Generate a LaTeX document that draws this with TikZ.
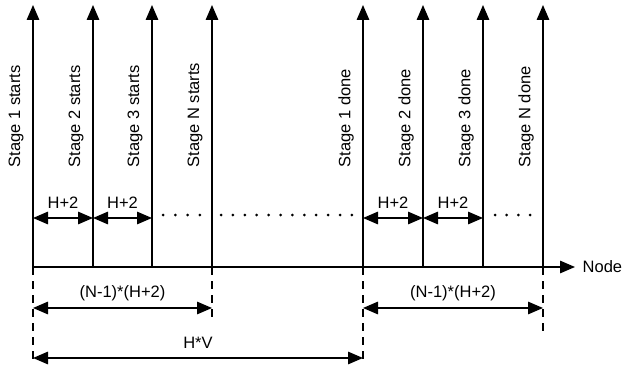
\documentclass[tikz,border=0pt]{standalone}
\usepackage{fontspec}
\setmainfont{Liberation Sans}
\usetikzlibrary{arrows.meta}

\tikzset{
  tip/.style={-{Triangle[length=15pt,width=12.5pt]}},
  both/.style={{Triangle[length=15pt,width=12.5pt]}-{Triangle[length=15pt,width=12.5pt]}},
  guide/.style={dash pattern=on 8pt off 6pt},
  stagelbl/.style={rotate=90, anchor=west, inner sep=0pt},
  dimlbl/.style={midway, anchor=base, yshift=10pt, inner sep=0pt},
}

\begin{document}
\begin{tikzpicture}[x=1pt, y=-1pt, line width=1.4pt, font=\fontsize{16.5}{20}\selectfont]
    \useasboundingbox (0,0) rectangle (625,369);

    % Node axis
    \coordinate (o) at (33,267);
    \coordinate (e) at (575,267);
    \draw[tip] (o) -- (e) node[right, inner sep=7pt] (node) {Node};

    % Stage events
    \foreach \x/\n/\t in {33/s1/Stage 1 starts, 93/s2/Stage 2 starts, 152/s3/Stage 3 starts, 212/sN/Stage N starts,
                          363/d1/Stage 1 done, 423/d2/Stage 2 done, 483/d3/Stage 3 done, 543/dN/Stage N done} {
        \coordinate (\n) at (\x,267);
        \coordinate (\n-top) at (\x,5);
        \draw[tip] (\n) -- (\n-top);
        \node[stagelbl] (\n-lbl) at (\x-17,168) {\t};
    }

    % H+2 spacings
    \foreach \a/\b in {s1/s2, s2/s3, d1/d2, d2/d3}
        \draw[both] ([yshift=49pt]\a) -- ([yshift=49pt]\b) node[dimlbl] (\a-h) {H+2};

    % Dots
    \foreach \i in {0,...,3} \fill (163+\i*12.3,215) circle (1.5);
    \foreach \i in {0,...,11} \fill (221+\i*11.9,215) circle (1.5);
    \foreach \i in {0,...,3} \fill (495+\i*11.7,215) circle (1.5);

    % Guide lines
    \draw[guide] (s1) -- ([yshift=-95pt]s1);
    \draw[guide] (sN) -- ([yshift=-53pt]sN);
    \draw[guide] (d1) -- ([yshift=-95pt]d1);
    \draw[guide] (dN) -- ([yshift=-68pt]dN);

    % Durations
    \draw[both] ([yshift=-41pt]s1) -- ([yshift=-41pt]sN) node[dimlbl] (fill1) {(N-1)*(H+2)};
    \draw[both] ([yshift=-41pt]d1) -- ([yshift=-41pt]dN) node[dimlbl] (fill2) {(N-1)*(H+2)};
    \draw[both] ([yshift=-91pt]s1) -- ([yshift=-91pt]d1) node[dimlbl] (hv) {H*V};
\end{tikzpicture}
\end{document}
